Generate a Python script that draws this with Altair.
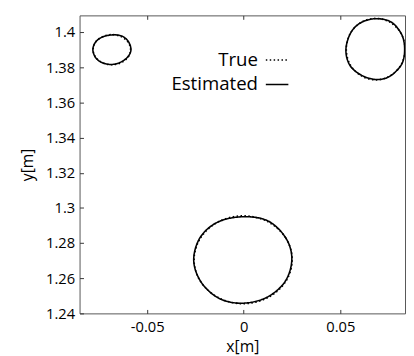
import altair as alt
import pandas as pd

series_names = ["True", "Estimated"]
x_ticks = [-0.05, 0, 0.05]
y_ticks = [1.24, 1.26, 1.28, 1.30, 1.32, 1.34, 1.36, 1.38, 1.40]

# small circle (upper left)
small_true_x = [-0.0586, -0.0599, -0.0635, -0.0683, -0.0732, -0.0767, -0.0780, -0.0767, -0.0732, -0.0683, -0.0635, -0.0599]
small_true_y = [1.3900, 1.3943, 1.3974, 1.3986, 1.3974, 1.3943, 1.3900, 1.3857, 1.3826, 1.3814, 1.3826, 1.3857]
small_est_x = [-0.0584, -0.0597, -0.0632, -0.0681, -0.0734, -0.0769, -0.0781, -0.0765, -0.0729, -0.0681, -0.0637, -0.0601]
small_est_y = [1.3898, 1.3946, 1.3978, 1.3984, 1.3971, 1.3940, 1.3897, 1.3852, 1.3824, 1.3816, 1.3829, 1.3858]

# right circle (upper right)
right_true_x = [0.0835, 0.0815, 0.0759, 0.0683, 0.0607, 0.0551, 0.0531, 0.0551, 0.0607, 0.0683, 0.0759, 0.0815]
right_true_y = [1.3903, 1.3991, 1.4055, 1.4078, 1.4055, 1.3991, 1.3903, 1.3815, 1.3752, 1.3728, 1.3752, 1.3815]
right_est_x = [0.0833, 0.0817, 0.0762, 0.0680, 0.0604, 0.0553, 0.0529, 0.0549, 0.0609, 0.0686, 0.0757, 0.0818]
right_est_y = [1.3905, 1.3988, 1.4058, 1.4076, 1.4052, 1.3994, 1.3900, 1.3812, 1.3755, 1.3730, 1.3749, 1.3818]

# big circle (bottom centre)
big_true_x = [0.0251, 0.0217, 0.0124, -0.0003, -0.0130, -0.0223, -0.0257, -0.0223, -0.0130, -0.0003, 0.0124, 0.0217]
big_true_y = [1.2705, 1.2830, 1.2922, 1.2955, 1.2922, 1.2830, 1.2705, 1.2580, 1.2489, 1.2455, 1.2489, 1.2580]
big_est_x = [0.0249, 0.0219, 0.0127, 0.0000, -0.0133, -0.0225, -0.0259, -0.0220, -0.0127, -0.0006, 0.0121, 0.0215]
big_est_y = [1.2708, 1.2827, 1.2925, 1.2950, 1.2920, 1.2833, 1.2702, 1.2577, 1.2485, 1.2458, 1.2492, 1.2583]

# --- table ------------------------------------------------------------------
rows = []
for circ, tx, ty, ex, ey in [
    ("small", small_true_x, small_true_y, small_est_x, small_est_y),
    ("right", right_true_x, right_true_y, right_est_x, right_est_y),
    ("big", big_true_x, big_true_y, big_est_x, big_est_y),
]:
    for i, (a, b) in enumerate(zip(tx, ty)):
        rows.append({"circle": circ, "series": "True", "idx": i, "x": a, "y": b})
    for i, (a, b) in enumerate(zip(ex, ey)):
        rows.append({"circle": circ, "series": "Estimated", "idx": i, "x": a, "y": b})
df = pd.DataFrame(rows)

FONT = "Open Sans"

xscale = alt.Scale(domain=[-0.085, 0.0835], nice=False, zero=False)
yscale = alt.Scale(domain=[1.24, 1.4095], nice=False, zero=False)

dash = alt.StrokeDash(
    "series:N",
    scale=alt.Scale(domain=series_names, range=[[1.5, 2.5], [1, 0]]),
    legend=alt.Legend(
        orient="none", legendX=189, legendY=33, title=None,
        symbolType="stroke", symbolSize=529, symbolStrokeWidth=1.3,
        symbolStrokeColor="black", labelAlign="right",
        labelOffset={"expr": "-32"},
        labelFontSize=19, labelFont=FONT, labelColor="black",
        rowPadding=2, padding=0,
    ),
)

base = alt.Chart(df).mark_line(
    interpolate="cardinal-closed", clip=True, color="black", strokeWidth=1.6
)

main = base.transform_filter(alt.datum.series == "True").encode(
    x=alt.X("x:Q", scale=xscale, axis=alt.Axis(
        values=x_ticks, labelExpr="'' + datum.value", title="x[m]",
        orient="bottom", domain=False, offset=-4, tickSize=4, labelPadding=6,
        titlePadding=5, grid=False)),
    y=alt.Y("y:Q", scale=yscale, axis=alt.Axis(
        values=y_ticks, format="~g", title="y[m]", orient="left",
        domain=False, offset=-4, tickSize=4, labelPadding=5,
        titlePadding=10, grid=False)),
    strokeDash=dash,
    detail="circle:N",
    order="idx:Q",
)

est = base.transform_filter(alt.datum.series == "Estimated").encode(
    x=alt.X("x:Q", scale=xscale, axis=alt.Axis(
        values=x_ticks, orient="top", labels=False, title=None,
        domain=False, offset=-4, tickSize=4, grid=False)),
    y=alt.Y("y:Q", scale=yscale, axis=None),
    strokeDash=dash,
    detail="circle:N",
    order="idx:Q",
)

chart = alt.layer(main, est).resolve_axis(
    x="independent", y="independent"
).properties(
    width=332, height=304,
    autosize=alt.AutoSizeParams(type="none"),
    padding={"left": 73, "top": 4, "right": 1, "bottom": 44},
).configure_view(
    stroke="#555", strokeWidth=1
).configure_axis(
    labelFont=FONT, labelFontSize=15, labelColor="black",
    titleFont=FONT, titleFontSize=16, titleFontWeight="normal", titleColor="black",
    tickColor="#333",
)

chart.save("out.html", embed_options={"renderer": "svg", "actions": False})
